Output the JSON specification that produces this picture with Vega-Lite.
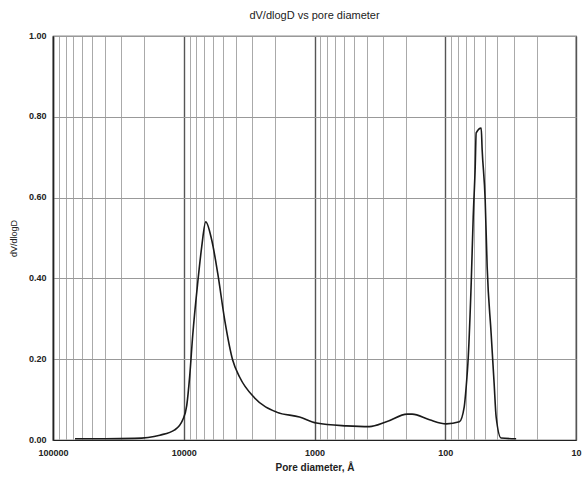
{
  "$schema": "https://vega.github.io/schema/vega-lite/v6.json",
  "autosize": {"type": "none"},
  "width": 523,
  "height": 404,
  "padding": {"left": 53, "top": 36, "right": 11, "bottom": 42},
  "background": "white",
  "title": {"text": "dV/dlogD vs pore diameter", "font": "Liberation Sans", "fontSize": 11, "fontWeight": "normal", "color": "#222", "offset": 10},
  "config": {
    "view": {"stroke": "#222", "strokeWidth": 1.2},
    "axis": {"labelFont": "Liberation Sans", "titleFont": "Liberation Sans", "labelColor": "#222", "titleColor": "#222"}
  },
  "data": {"values": [
    {"d": 67900, "v": 0.003},
    {"d": 40000, "v": 0.003},
    {"d": 23660, "v": 0.004},
    {"d": 15240, "v": 0.012},
    {"d": 11720, "v": 0.025},
    {"d": 10180, "v": 0.05},
    {"d": 9490, "v": 0.085},
    {"d": 8995, "v": 0.16},
    {"d": 8535, "v": 0.26},
    {"d": 7815, "v": 0.39},
    {"d": 7290, "v": 0.478},
    {"d": 6790, "v": 0.54},
    {"d": 6110, "v": 0.495},
    {"d": 5500, "v": 0.413},
    {"d": 4860, "v": 0.297},
    {"d": 4225, "v": 0.198},
    {"d": 3740, "v": 0.156},
    {"d": 2870, "v": 0.104},
    {"d": 1950, "v": 0.069},
    {"d": 1302, "v": 0.057},
    {"d": 966, "v": 0.042},
    {"d": 570, "v": 0.035},
    {"d": 380, "v": 0.033},
    {"d": 282, "v": 0.045},
    {"d": 195, "v": 0.064},
    {"d": 179, "v": 0.064},
    {"d": 132, "v": 0.05},
    {"d": 98, "v": 0.04},
    {"d": 78, "v": 0.045},
    {"d": 71.6, "v": 0.082},
    {"d": 69.2, "v": 0.131},
    {"d": 66.7, "v": 0.205},
    {"d": 63.3, "v": 0.389},
    {"d": 61.1, "v": 0.552},
    {"d": 59.0, "v": 0.676},
    {"d": 58.0, "v": 0.76},
    {"d": 53.1, "v": 0.772},
    {"d": 52.2, "v": 0.718},
    {"d": 49.5, "v": 0.594},
    {"d": 47.8, "v": 0.428},
    {"d": 44.6, "v": 0.265},
    {"d": 42.3, "v": 0.141},
    {"d": 40.8, "v": 0.057},
    {"d": 37.4, "v": 0.005},
    {"d": 28.7, "v": 0.003}
  ]},
  "mark": {"type": "line", "color": "#1a1a1a", "strokeWidth": 1.6, "interpolate": "monotone"},
  "encoding": {
    "x": {
      "field": "d", "type": "quantitative",
      "scale": {"type": "log", "domain": [10, 100000], "reverse": true, "nice": false},
      "axis": {
        "values": [10,20,30,40,50,60,70,80,90,100,200,300,400,500,600,700,800,900,1000,2000,3000,4000,5000,6000,7000,8000,9000,10000,20000,30000,40000,50000,60000,70000,80000,90000,100000],
        "format": "d",
        "labelExpr": "indexof([10,100,1000,10000,100000], datum.value) >= 0 ? datum.label : ''",
        "ticks": false,
        "labelPadding": 8,
        "labelFontSize": 9,
        "labelFontWeight": "bold",
        "labelOverlap": false,
        "labelFlush": false,
        "domainColor": "#222",
        "domainWidth": 1.2,
        "gridColor": {"condition": {"test": "indexof([10,100,1000,10000,100000], datum.value) >= 0", "value": "#555"}, "value": "#aaa"},
        "gridWidth": {"condition": {"test": "indexof([10,100,1000,10000,100000], datum.value) >= 0", "value": 1.4}, "value": 1},
        "gridOpacity": 1,
        "title": "Pore diameter, Å",
        "titleFontSize": 10,
        "titleFontWeight": "bold",
        "titlePadding": 5
      }
    },
    "y": {
      "field": "v", "type": "quantitative",
      "scale": {"domain": [0, 1], "nice": false},
      "axis": {
        "values": [0, 0.2, 0.4, 0.6, 0.8, 1.0],
        "format": ".2f",
        "ticks": false,
        "labelPadding": 7,
        "labelFontSize": 9,
        "labelFontWeight": "bold",
        "labelBaseline": "bottom",
        "labelOffset": 4,
        "domainColor": "#222",
        "domainWidth": 1.5,
        "gridColor": "#999",
        "gridWidth": 1,
        "title": "dV/dlogD",
        "titleFontSize": 9,
        "titleFontWeight": "normal",
        "titlePadding": 10
      }
    }
  }
}
